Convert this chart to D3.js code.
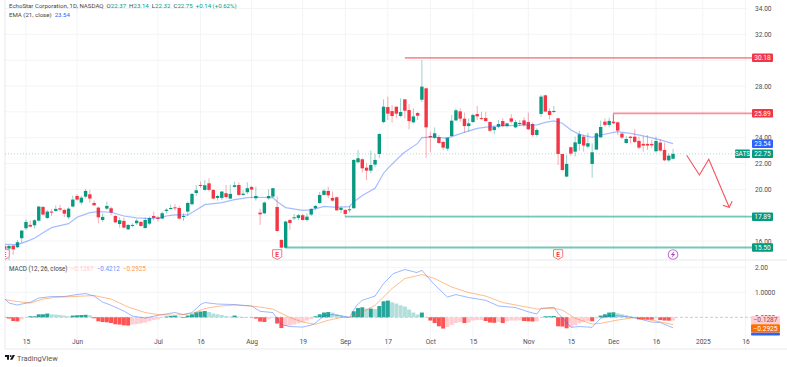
<!DOCTYPE html>
<html>
<head>
<meta charset="utf-8">
<script src="https://cdn.jsdelivr.net/npm/d3@7"></script>
<style>
  html, body { margin: 0; background: #fff; }
  text { font-family: Roboto, "Liberation Sans", sans-serif; }
</style>
</head>
<body>
<div id="chart"></div>
<script>
/**
 * DATA. Index 0 is May 8 2024, one entry per trading day
 * */
const opens = [15.60,15.42,15.65,15.52,16.22,16.99,17.25,17.22,17.58,18.64,
  17.79,18.28,18.33,18.54,18.41,17.84,18.67,19.49,18.98,19.44,
  19.62,18.95,18.59,17.63,18.51,18.54,17.94,17.32,17.56,16.91,
  17.17,17.38,17.48,17.01,17.35,17.94,17.81,17.74,18.33,18.49,
  18.61,18.56,17.89,18.28,18.85,19.72,20.34,19.96,20.47,19.96,
  19.34,19.34,19.70,19.29,20.19,20.34,19.57,19.78,20.19,19.31,
  18.20,18.15,19.31,19.44,18.64,16.09,15.49,17.63,17.79,17.79,
  18.00,17.63,18.05,18.54,18.95,19.57,19.88,19.34,19.39,18.41,
  18.41,18.38,18.54,22.10,22.33,21.68,21.45,21.92,22.74,25.21,
  26.37,26.06,26.40,25.68,26.97,26.14,25.19,25.91,26.94,27.82,
  24.13,24.00,24.05,23.67,23.15,24.13,25.34,26.04,25.47,24.90,
  25.21,25.83,25.52,25.52,25.21,24.59,24.85,25.29,24.90,25.50,
  24.80,25.06,25.34,25.21,25.06,24.21,25.84,27.28,26.07,25.99,
  25.50,22.74,20.99,23.26,22.92,23.52,24.08,23.31,21.97,23.08,
  24.03,25.24,24.99,25.24,25.19,24.32,23.59,24.08,24.08,23.75,
  23.52,23.52,23.52,22.95,23.62,23.05,22.25,22.37];
const highs = [15.70,15.70,15.65,16.09,16.86,17.69,17.58,17.69,18.72,18.72,
  18.41,18.46,18.77,18.80,18.51,18.61,19.52,19.62,19.49,20.03,
  19.96,19.13,18.67,18.15,19.05,18.67,18.00,17.84,17.81,17.30,
  17.38,17.71,17.58,17.84,17.89,18.28,17.94,18.28,18.54,18.82,
  18.85,18.72,18.15,19.05,19.70,20.34,20.60,20.73,20.86,20.01,
  19.57,19.88,20.34,20.34,20.60,20.55,19.96,20.55,20.27,20.21,
  18.49,19.08,20.01,20.09,19.44,16.14,17.58,17.69,18.10,18.10,
  18.10,18.15,18.54,18.80,19.80,20.01,20.21,19.83,19.44,18.72,
  18.46,18.72,22.33,23.05,22.41,22.02,23.00,22.74,24.34,26.97,
  27.17,26.53,26.40,27.05,26.97,26.61,26.27,26.01,30.01,27.87,
  24.47,24.80,24.21,23.77,24.03,25.76,26.27,26.27,25.94,25.50,
  25.86,26.45,26.01,26.01,25.29,24.90,25.37,25.50,25.16,25.83,
  25.37,25.37,25.57,25.94,25.17,24.73,27.31,27.33,26.28,26.46,
  25.55,22.74,22.67,23.31,24.08,24.55,24.21,24.39,23.57,24.39,
  25.32,25.50,25.55,25.76,25.24,24.39,24.14,24.14,24.65,24.08,
  24.14,24.21,23.83,24.08,23.88,23.62,22.79,23.14];
const lows = [15.30,14.53,14.93,15.44,15.83,16.86,17.07,16.99,17.51,18.00,
  17.69,17.94,18.28,18.28,17.84,17.69,18.61,19.13,18.80,19.31,
  18.98,18.72,17.38,17.48,18.41,18.00,17.38,17.04,16.99,16.86,
  17.07,17.25,17.12,16.96,17.25,17.58,17.51,17.69,18.15,18.41,
  18.36,17.69,17.56,17.94,18.77,19.49,20.09,19.90,19.83,19.23,
  19.13,19.18,19.31,19.23,20.14,19.52,19.49,19.62,19.31,19.13,
  17.25,18.10,19.18,19.31,16.73,15.42,15.42,16.86,17.63,17.63,
  17.58,17.51,17.94,18.41,18.87,19.52,19.31,19.05,18.33,18.15,
  17.84,18.20,18.49,22.02,21.30,20.73,21.25,21.71,22.41,25.11,
  25.37,25.16,25.50,25.57,25.50,24.65,25.11,25.37,26.76,22.45,
  22.87,23.90,23.51,23.05,23.00,24.08,25.29,25.24,24.39,24.47,
  25.16,25.37,25.37,25.24,24.44,24.26,24.72,24.80,24.80,25.11,
  24.72,24.90,24.85,24.59,24.08,24.08,25.63,25.97,25.43,25.89,
  21.89,21.45,20.94,22.59,22.54,23.00,22.92,23.18,20.91,23.05,
  23.96,24.86,24.81,25.04,24.21,23.88,23.52,23.57,23.57,23.13,
  22.92,23.05,23.18,22.85,22.92,22.17,22.12,22.32];
const closes = [15.40,15.62,15.36,15.91,16.81,17.48,17.12,17.61,18.67,18.05,
  18.28,18.20,18.49,18.43,18.12,18.51,19.21,19.21,19.36,19.88,
  19.29,18.77,17.84,17.87,18.72,18.20,17.45,17.61,17.04,17.25,
  17.25,17.58,17.17,17.63,17.79,17.79,17.71,18.15,18.43,18.56,
  18.54,17.74,17.94,18.95,19.65,19.93,20.27,20.32,19.96,19.29,
  19.49,19.83,19.41,19.65,20.32,19.57,19.67,20.09,19.98,19.49,
  18.07,18.98,19.49,20.09,16.78,15.49,17.51,17.40,17.84,18.00,
  17.63,17.89,18.49,18.72,19.57,19.90,19.54,19.13,18.38,18.56,
  18.10,18.46,22.28,22.41,21.63,21.45,21.89,22.28,24.29,26.40,
  25.86,25.68,25.86,25.99,26.09,25.29,25.65,25.70,27.95,24.80,
  24.05,24.34,23.59,23.23,24.00,25.32,26.12,25.47,24.90,25.11,
  25.76,25.65,25.45,25.29,24.54,24.83,25.06,24.90,25.11,25.24,
  25.21,25.14,24.98,24.65,24.21,24.60,27.18,26.02,25.76,26.07,
  22.74,21.50,21.97,22.77,23.64,24.26,23.39,23.57,22.87,24.34,
  24.83,24.99,25.30,25.12,24.55,24.01,23.90,23.98,23.67,23.23,
  23.39,23.39,23.41,23.75,23.00,22.25,22.61,22.75];

const emaDays = [0,3,5,7,9,11,15,17,20,22,25,28,31,34,37,38,40,43,45,47,51,54,57,59,63,64,66,70,72,75,78,81,82,84,87,89,90,93.6,97,98,100,104,106,108.5,111,114,117,120,125,127,129,131,133,135,138,140,144,147,150,154,157];
const emaValues = [15.75,15.72,15.96,16.22,16.65,17.04,17.35,17.84,18.20,18.28,18.23,17.94,17.79,17.74,17.84,17.94,18.02,18.02,18.41,18.82,18.98,19.21,19.36,19.39,19.36,19.05,18.59,18.38,18.41,18.69,18.61,18.67,19.05,19.52,20.09,21.25,21.63,22.79,23.56,24.00,24.05,23.97,24.20,24.47,24.72,24.85,24.93,24.95,24.99,25.19,25.30,25.12,24.60,24.26,24.03,24.21,24.47,24.34,24.14,23.83,23.54];

const macdHist = [-0.01,-0.05,-0.15,-0.16,-0.08,-0.01,0.04,0.04,0.12,0.12,
  0.15,0.12,0.11,0.09,0.07,0.04,0.07,0.08,0.09,0.10,
  0.08,-0.04,-0.16,-0.19,-0.20,-0.23,-0.28,-0.29,-0.32,-0.33,
  -0.29,-0.27,-0.25,-0.21,-0.16,-0.11,-0.08,-0.03,0.03,0.05,
  0.06,0.03,-0.03,0.07,0.12,0.20,0.23,0.25,0.21,0.15,
  0.12,0.09,0.05,0.03,0.07,0.03,-0.01,0.00,-0.01,-0.05,
  -0.17,-0.19,-0.08,-0.03,-0.25,-0.43,-0.35,-0.33,-0.29,-0.24,
  -0.19,-0.13,-0.07,0.04,0.12,0.19,0.21,0.19,0.13,0.08,
  0.03,0.01,0.24,0.37,0.40,0.35,0.35,0.33,0.45,0.64,
  0.67,0.60,0.55,0.48,0.43,0.31,0.19,0.11,0.19,0.00,
  -0.13,-0.23,-0.36,-0.45,-0.39,-0.31,-0.23,-0.19,-0.23,-0.21,
  -0.13,-0.11,-0.11,-0.15,-0.21,-0.22,-0.19,-0.23,-0.16,-0.13,
  -0.13,-0.12,-0.15,-0.16,-0.17,-0.16,0.00,0.04,0.04,0.05,
  -0.36,-0.37,-0.44,-0.39,-0.32,-0.24,-0.19,-0.15,-0.16,-0.04,
  0.07,0.12,0.19,0.20,0.16,0.12,0.08,0.05,0.01,-0.08,
  -0.085,-0.09,-0.095,-0.04,-0.11,-0.13,-0.135,-0.1287];

const macdDays = [0,1,3,4,6,8,11,14,17,19,21,23,25,28,30,33,36,40,42,44,46,47,50,54,58,60,63,65,67,70,72.5,75,77,81,82.7,84,87,89,91.3,94,96.8,98,100.7,104,106,109,113,116,120,123,125,126,129,130,133,135,138,140,142,145,148.5,152,154,156,157];
const macdValues = [0.75,0.57,0.49,0.53,0.60,0.77,0.83,0.83,0.91,0.95,0.85,0.61,0.48,0.25,0.05,-0.03,0.08,0.19,0.11,0.19,0.51,0.59,0.53,0.51,0.45,0.24,0.19,-0.29,-0.37,-0.39,-0.29,0.05,0.11,0.00,0.48,0.68,0.85,1.35,1.75,1.91,1.79,1.88,1.35,0.81,0.91,0.79,0.68,0.45,0.39,0.22,0.13,0.36,0.40,0.16,-0.40,-0.37,-0.40,-0.04,0.07,0.05,-0.04,-0.19,-0.21,-0.35,-0.4212];
const signalDays = [0,3,6,9,12,16,21,25,29,33,36,40,44,47,50,54,58,60,63,67,70,73,76,79,81,84,87,91,94,98,101,105,109,113,117,123,125,129,131,134,138,140,144,148,152.5,157];
const signalValues = [0.71,0.63,0.57,0.73,0.80,0.83,0.87,0.73,0.41,0.19,0.11,0.08,0.15,0.35,0.44,0.49,0.45,0.41,0.33,-0.01,-0.19,-0.28,-0.12,-0.01,0.00,0.21,0.48,1.15,1.55,1.71,1.55,1.21,0.99,0.85,0.59,0.40,0.33,0.36,0.29,-0.04,-0.27,-0.24,-0.11,-0.01,-0.13,-0.2925];

const priceTicks = [34,32,28,24,22,20,16];
const priceGrid = [34,32,30,28,26,24,22,20,18,16];
const macdTicks = [2,1,0];
const macdTickLabels = ["2.00","1.0000","0.0000"];
const timeTicks = [5,17,36,46,58,70,80,90,100,110,123,133,143,153,164,174];
const timeLabels = ["15","Jun","Jul","16","Aug","19","Sep","17","Oct","15","Nov","15","Dec","16","2025","16"];

// levels marked on the chart: [first day, price]
const redLevels = [[94,30.18],[143,25.89]];
const greenLevels = [[80,17.89],[66,15.50]];
const arrowDays = [160.2,163.2,165.4,170.2];
const arrowPrices = [22.64,21.11,22.33,18.61];
const arrowHeadDays = [168.7,170.2,170.9];
const arrowHeadPrices = [18.77,18.61,19.08];
const earningsDays = [0,64,130];
const dividendDay = 157;

/**
 * CONSTANTS AND SCALES
 * */
const width = 787, height = 367;
const plotLeft = 5, plotRight = 747, axisX = 752, paneTop = 260, paneBottom = 349;
const green = "#089981", red = "#f23645", blue = "#2962ff", orange = "#ff6d00";

const x = d3.scaleLinear().domain([0, 174]).range([4.7, 745.4]);
const y = d3.scaleLinear().domain([34, 16]).range([8.5, 241.06]);
const yMacd = d3.scaleLinear().domain([2, 0]).range([267.3, 317.3]);

const svg = d3.select("#chart").append("svg")
  .attr("width", width).attr("height", height)
  .style("display", "block");

svg.append("clipPath").attr("id", "plotClip").append("rect")
  .attr("x", plotLeft).attr("y", 0).attr("width", width - plotLeft).attr("height", paneBottom);

/**
 * GRID AND FRAME
 * */
const grid = svg.append("g").attr("stroke", "#f3f4f6").attr("stroke-width", 1);
grid.selectAll(".v").data(timeTicks).join("line")
  .attr("x1", d => x(d)).attr("x2", d => x(d)).attr("y1", 0).attr("y2", paneBottom);
grid.selectAll(".h").data(priceGrid).join("line")
  .attr("x1", plotLeft).attr("x2", plotRight).attr("y1", d => y(d)).attr("y2", d => y(d));
grid.selectAll(".m").data(macdTicks.slice(0, 2)).join("line")
  .attr("x1", plotLeft).attr("x2", plotRight).attr("y1", d => yMacd(d)).attr("y2", d => yMacd(d));

const frame = svg.append("g").attr("stroke", "#e8e9ec").attr("stroke-width", 1);
frame.append("line").attr("x1", 5).attr("x2", 5).attr("y1", 0).attr("y2", paneBottom);
frame.append("line").attr("x1", 5).attr("x2", width).attr("y1", paneTop).attr("y2", paneTop);
frame.append("line").attr("x1", 5).attr("x2", width).attr("y1", paneBottom).attr("y2", paneBottom);

/**
 * PRICE PANE
 * */
const plot = svg.append("g").attr("clip-path", "url(#plotClip)");

// last price dotted line
plot.append("line")
  .attr("x1", plotLeft).attr("x2", 735)
  .attr("y1", y(closes[closes.length - 1])).attr("y2", y(closes[closes.length - 1]))
  .attr("stroke", green).attr("stroke-opacity", .35).attr("stroke-dasharray", "1 2");

const candle = plot.selectAll(".candle").data(opens).join("g").attr("class", "candle");
candle.append("line")
  .attr("x1", (d, i) => x(i)).attr("x2", (d, i) => x(i))
  .attr("y1", (d, i) => y(highs[i])).attr("y2", (d, i) => y(lows[i]))
  .attr("stroke", (d, i) => closes[i] >= d ? green : red)
  .attr("stroke-opacity", .42);
candle.append("rect")
  .attr("x", (d, i) => x(i) - 1.7).attr("width", 3.4)
  .attr("y", (d, i) => y(Math.max(d, closes[i])))
  .attr("height", (d, i) => Math.max(1, Math.abs(y(d) - y(closes[i]))))
  .attr("fill", (d, i) => closes[i] >= d ? green : red);

const ema = d3.line().x((d, i) => x(emaDays[i])).y(d => y(d));
plot.append("path").attr("d", ema(emaValues))
  .attr("fill", "none").attr("stroke", blue).attr("stroke-opacity", .42).attr("stroke-width", 1.2);

// support and resistance levels
function level(data, color) {
  data.forEach(([day, price]) => {
    plot.append("line").attr("x1", x(day)).attr("x2", axisX)
      .attr("y1", y(price)).attr("y2", y(price))
      .attr("stroke", color).attr("stroke-opacity", .55).attr("stroke-width", 1.8);
  });
}
level(redLevels, red);
level(greenLevels, green);
// small drop at the start of the 25.89 line
plot.append("line").attr("x1", x(143)).attr("x2", x(143)).attr("y1", y(25.89)).attr("y2", y(25.24))
  .attr("stroke", red).attr("stroke-opacity", .55).attr("stroke-width", 1.2);

// hand drawn arrow
const arrow = d3.line().x(d => x(d[0])).y(d => y(d[1]));
plot.append("path").attr("d", arrow(d3.zip(arrowDays, arrowPrices)))
  .attr("fill", "none").attr("stroke", "#f7525f").attr("stroke-width", 1.1);
plot.append("path").attr("d", arrow(d3.zip(arrowHeadDays, arrowHeadPrices)))
  .attr("fill", "none").attr("stroke", "#f7525f").attr("stroke-width", 1.1);

// earnings badges
const badgeY = 254.5;
const badge = plot.selectAll(".badge").data(earningsDays).join("g")
  .attr("class", "badge")
  .attr("transform", d => `translate(${x(d)},${badgeY})`);
badge.append("path").attr("d", "M-4.6,-4.8H4.6V2.4L0,5L-4.6,2.4Z")
  .attr("fill", "#fff").attr("stroke", "#f77c80").attr("stroke-width", 1);
badge.append("text").attr("text-anchor", "middle").attr("y", 2.4)
  .attr("font-size", 6.5).attr("font-weight", 700).attr("fill", red).text("E");

const bolt = plot.append("g").attr("transform", `translate(${x(dividendDay)},${badgeY})`);
bolt.append("circle").attr("r", 4.8).attr("fill", "#fff").attr("stroke", "#c678d6").attr("stroke-width", 1.1);
bolt.append("path").attr("d", "M1.4,-3.4L-2.2,0.6H-0.2L-1.4,3.4L2.2,-0.6H0.2Z").attr("fill", "#ab47bc");

/**
 * MACD PANE
 * */
plot.append("line").attr("x1", plotLeft).attr("x2", axisX)
  .attr("y1", yMacd(0)).attr("y2", yMacd(0))
  .attr("stroke", "#c9cbd1").attr("stroke-dasharray", "3 2");

plot.selectAll(".hist").data(macdHist).join("rect")
  .attr("class", "hist")
  .attr("x", (d, i) => x(i) - 2).attr("width", 4)
  .attr("y", d => Math.min(yMacd(d), yMacd(0)))
  .attr("height", d => Math.abs(yMacd(d) - yMacd(0)))
  .attr("fill", (d, i) => {
    const prev = i ? macdHist[i - 1] : 0;
    if (d >= 0) return d >= prev ? "#26a69a" : "#b2dfdb";
    return d < prev ? "#ff5252" : "#ffcdd2";
  });

const macdLine = d3.line().x((d, i) => x(macdDays[i])).y(d => yMacd(d));
const signalLine = d3.line().x((d, i) => x(signalDays[i])).y(d => yMacd(d));
plot.append("path").attr("d", macdLine(macdValues))
  .attr("fill", "none").attr("stroke", blue).attr("stroke-opacity", .45);
plot.append("path").attr("d", signalLine(signalValues))
  .attr("fill", "none").attr("stroke", orange).attr("stroke-opacity", .45);

/**
 * AXES
 * */
function styleAxis(sel) {
  sel.select(".domain").remove();
  sel.selectAll("text").attr("font-size", 6.6).attr("fill", "#4a4d57")
    .style("font-family", "Roboto, 'Liberation Sans', sans-serif");
}
svg.append("g").attr("transform", `translate(${axisX},0)`)
  .call(d3.axisRight(y).tickValues(priceTicks).tickSize(0).tickPadding(3).tickFormat(d3.format(".2f")))
  .call(styleAxis);
svg.append("g").attr("transform", `translate(${axisX},0)`)
  .call(d3.axisRight(yMacd).tickValues(macdTicks).tickSize(0).tickPadding(3)
    .tickFormat((d, i) => macdTickLabels[i]))
  .call(styleAxis);
svg.append("g").attr("transform", "translate(0,336)")
  .call(d3.axisBottom(x).tickValues(timeTicks).tickSize(0).tickPadding(3)
    .tickFormat((d, i) => timeLabels[i]))
  .call(styleAxis);

// value tags on the right
function tag(tagX, w, cy, h, fill, color, label) {
  svg.append("rect").attr("x", tagX).attr("y", cy - h / 2).attr("width", w).attr("height", h)
    .attr("rx", 1).attr("fill", fill);
  if (!label) return;
  svg.append("text").attr("x", tagX + w / 2).attr("y", cy + 2.4).attr("text-anchor", "middle")
    .attr("font-size", 6.6).attr("fill", color).text(label);
}
tag(axisX, 21, y(30.18), 8.5, red, "#fff", "30.18");
tag(axisX, 21, y(25.89), 8.5, red, "#fff", "25.89");
tag(axisX, 21, y(23.54), 8.5, blue, "#fff", "23.54");
tag(735, 15, y(22.75), 8.5, green, "#fff", "SATS");
tag(axisX, 21, y(22.75), 8.5, green, "#fff", "22.75");
tag(axisX, 21, y(17.89), 8.5, green, "#fff", "17.89");
tag(axisX, 21, y(15.50), 8.5, green, "#fff", "15.50");
tag(751, 29, 334, 3, blue, "#fff", "");
tag(751, 29, 320, 8.2, "#ffcdd2", "#8a4b50", "\u22120.1287");
tag(751, 29, 328.4, 8.4, orange, "#fff", "\u22120.2925");

/**
 * LEGENDS
 * */
function legend(yPos, size, parts) {
  const t = svg.append("text").attr("x", 9).attr("y", yPos).attr("font-size", size);
  parts.forEach(([label, color]) => t.append("tspan").attr("fill", color).attr("xml:space", "preserve").text(label));
}
const up = "#089981";
legend(8.2, 6.1, [
  ["EchoStar Corporation, 1D, NASDAQ  ", "#444"],
  ["O", "#444"], ["22.37  ", up], ["H", "#444"], ["23.14  ", up],
  ["L", "#444"], ["22.32  ", up], ["C", "#444"], ["22.75  ", up], ["+0.14 (+0.62%)", up]
]);
legend(16.8, 6.1, [["EMA (21, close)  ", "#444"], ["23.54", blue]]);
legend(270.5, 6.3, [
  ["MACD (12, 26, close)  ", "#444"], ["\u22120.1287  ", "#ffcdd2"],
  ["\u22120.4212  ", "#6f8fff"], ["\u22120.2925", "#ff9a4d"]
]);

// TradingView mark
const logo = svg.append("g").attr("transform", "translate(5,355)").attr("fill", "#131722");
logo.append("path").attr("d", "M0,0H4V4.8H2V2H0Z");
logo.append("circle").attr("cx", 5.6).attr("cy", 1).attr("r", 1);
logo.append("path").attr("d", "M7.6,0H10L7.4,4.8H5Z");
svg.append("text").attr("x", 17).attr("y", 361).attr("font-size", 7.4).attr("fill", "#555").text("TradingView");
</script>
</body>
</html>
